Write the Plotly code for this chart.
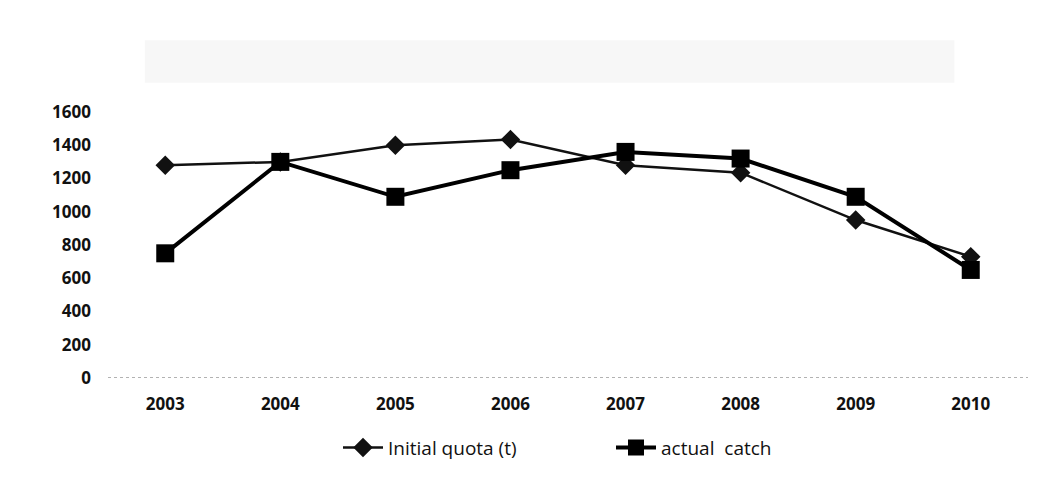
import plotly.graph_objects as go

years = ["2003", "2004", "2005", "2006", "2007", "2008", "2009", "2010"]
initial_quota = [1280, 1300, 1400, 1435, 1280, 1235, 950, 730]
actual_catch = [750, 1300, 1090, 1250, 1360, 1320, 1090, 650]
y_ticks = [0, 200, 400, 600, 800, 1000, 1200, 1400, 1600]

fig = go.Figure()
fig.add_trace(go.Scatter(
    x=years, y=initial_quota, name="Initial quota (t)", mode="lines+markers",
    line=dict(color="#111111", width=2.5),
    marker=dict(symbol="diamond", size=15, color="#111111"),
))
fig.add_trace(go.Scatter(
    x=years, y=actual_catch, name="actual  catch", mode="lines+markers",
    line=dict(color="#000000", width=4),
    marker=dict(symbol="square", size=18, color="#000000"),
))

fig.add_shape(type="rect", xref="paper", yref="paper", x0=0.04, x1=0.92, y0=1.11, y1=1.27,
              fillcolor="#f7f7f7", line=dict(width=0), layer="below")

fig.update_layout(
    width=1038, height=477,
    margin=dict(l=108, r=10, t=112, b=97),
    paper_bgcolor="white", plot_bgcolor="white",
    font=dict(family="Open Sans", size=16, color="#111111"),
    showlegend=True,
    legend=dict(orientation="h", x=0.25, y=-0.19, xanchor="left", yanchor="top",
                font=dict(size=19, color="#111111"), itemwidth=40,
                entrywidth=218, entrywidthmode="pixels"),
    xaxis=dict(type="category", showgrid=False, zeroline=False,
               showline=False, ticks="", tickfont=dict(size=17, weight="bold"),
               ticklabelstandoff=14),
    yaxis=dict(range=[0, 1600], tickvals=y_ticks, showgrid=False, zeroline=False,
               showline=False, ticks="", tickfont=dict(size=17, weight="bold"),
               ticklabelstandoff=16),
)
fig.add_shape(type="line", xref="paper", yref="y", x0=0, x1=1, y0=0, y1=0,
              line=dict(color="#999999", width=1.5, dash="dot"))

fig.write_html("out.html")
